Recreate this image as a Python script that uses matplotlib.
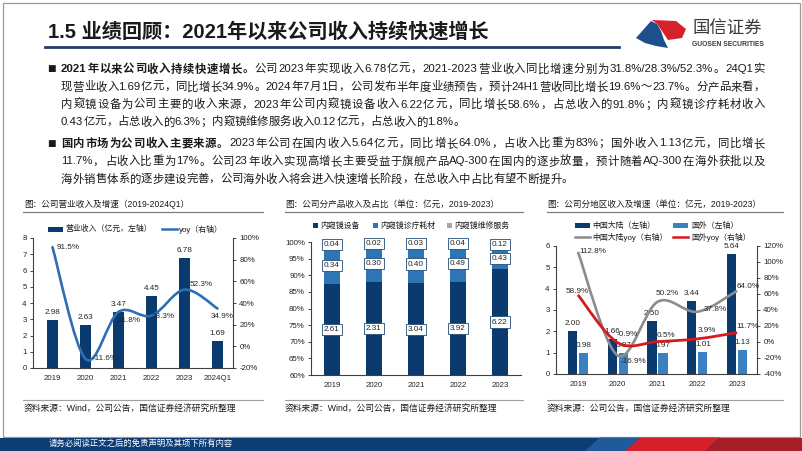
import matplotlib
matplotlib.use('Agg')
import re
import matplotlib.pyplot as plt
from matplotlib.path import Path
from matplotlib.patches import PathPatch, Rectangle, Polygon
from matplotlib.lines import Line2D

plt.rcParams['font.family'] = ['Liberation Sans', 'Noto Sans CJK SC']
plt.rcParams['axes.unicode_minus'] = False

# ---------------- data ----------------
years1 = ['2019', '2020', '2021', '2022', '2023', '2024Q1']
revenue = [2.98, 2.63, 3.47, 4.45, 6.78, 1.69]
revenue_yoy = [91.5, -11.6, 31.8, 28.3, 52.3, 34.9]

years2 = ['2019', '2020', '2021', '2022', '2023']
prod_equipment = [2.61, 2.31, 3.04, 3.92, 6.22]
prod_consumables = [0.34, 0.30, 0.40, 0.49, 0.43]
prod_service = [0.04, 0.02, 0.03, 0.04, 0.12]

years3 = ['2019', '2020', '2021', '2022', '2023']
mainland = [2.00, 1.66, 2.50, 3.44, 5.64]
overseas = [0.98, 0.97, 0.97, 1.01, 1.13]
mainland_yoy = [112.8, -16.9, 50.2, 37.8, 64.0]
overseas_yoy = [58.9, -0.9, 0.5, 3.9, 11.7]

title = '1.5 业绩回顾：2021年以来公司收入持续快速增长'
para_lines = [
    [('2021年以来公司收入持续快速增长。', True),
     ('公司2023年实现收入6.78亿元，2021-2023营业收入同比增速分别为31.8%/28.3%/52.3%。24Q1实', False)],
    [('现营业收入1.69亿元，同比增长34.9%。2024年7月1日，公司发布半年度业绩预告，预计24H1营收同比增长19.6%～23.7%。分产品来看，', False)],
    [('内窥镜设备为公司主要的收入来源，2023年公司内窥镜设备收入6.22亿元，同比增长58.6%，占总收入的91.8%；内窥镜诊疗耗材收入', False)],
    [('0.43亿元，占总收入的6.3%；内窥镜维修服务收入0.12亿元，占总收入的1.8%。', False)],
    [('国内市场为公司收入主要来源。', True),
     ('2023年公司在国内收入5.64亿元，同比增长64.0%，占收入比重为83%；国外收入1.13亿元，同比增长', False)],
    [('11.7%，占收入比重为17%。公司23年收入实现高增长主要受益于旗舰产品AQ-300在国内的逐步放量，预计随着AQ-300在海外获批以及', False)],
    [('海外销售体系的逐步建设完善，公司海外收入将会进入快速增长阶段，在总收入中占比有望不断提升。', False)],
]
chart_titles = ['图：公司营业收入及增速（2019-2024Q1）',
                '图：公司分产品收入及占比（单位：亿元，2019-2023）',
                '图：公司分地区收入及增速（单位：亿元，2019-2023）']
sources = ['资料来源：Wind，公司公告，国信证券经济研究所整理',
           '资料来源：Wind，公司公告，国信证券经济研究所整理',
           '资料来源：公司公告，国信证券经济研究所整理']
legend1 = ['营业收入（亿元，左轴）', 'yoy（右轴）']
legend2 = ['内窥镜设备', '内窥镜诊疗耗材', '内窥镜维修服务']
legend3 = ['中国大陆（左轴）', '国外（左轴）', '中国大陆yoy（右轴）', '国外yoy（右轴）']
footer_text = '请务必阅读正文之后的免责声明及其项下所有内容'

# ---------------- styles ----------------
NAVY = '#0b3a6e'
MID = '#2e75b6'
LIGHT = '#3b80c3'
GRAY = '#a6a6a6'
LINEBLUE = '#2f6eb5'
RED = '#d7191c'
TXT = '#1a1a1a'

W, H = 802, 451
fig = plt.figure(figsize=(W / 100, H / 100), dpi=100)
R = fig.canvas.get_renderer()


def ftext(x, y, s, **kw):
    return fig.text(x / W, 1 - y / H, s, **kw)


def fline(x0, x1, y0, y1, **kw):
    fig.add_artist(Line2D([x0 / W, x1 / W], [1 - y0 / H, 1 - y1 / H],
                          transform=fig.transFigure, **kw))


def frect(x, y, w, h, **kw):
    fig.add_artist(Rectangle((x / W, 1 - (y + h) / H), w / W, h / H,
                             transform=fig.transFigure, **kw))


def fpoly(pts, **kw):
    fig.add_artist(Polygon([(x / W, 1 - y / H) for x, y in pts],
                           closed=True, transform=fig.transFigure, **kw))


def add_ax(x0, y0, x1, y1):
    return fig.add_axes([x0 / W, 1 - y1 / H, (x1 - x0) / W, (y1 - y0) / H])


def smooth_path(xs, ys):
    pts = list(zip(xs, ys))
    n = len(pts)
    verts = [pts[0]]
    codes = [Path.MOVETO]
    for i in range(n - 1):
        p0 = pts[i - 1] if i > 0 else pts[i]
        p1 = pts[i]
        p2 = pts[i + 1]
        p3 = pts[i + 2] if i + 2 < n else pts[i + 1]
        c1 = (p1[0] + (p2[0] - p0[0]) / 6, p1[1] + (p2[1] - p0[1]) / 6)
        c2 = (p2[0] - (p3[0] - p1[0]) / 6, p2[1] - (p3[1] - p1[1]) / 6)
        verts += [c1, c2, p2]
        codes += [Path.CURVE4] * 3
    return Path(verts, codes)


def style_axis(ax, spines=('left', 'bottom')):
    for s in ['left', 'right', 'top', 'bottom']:
        ax.spines[s].set_visible(s in spines)
        ax.spines[s].set_color('#404040')
        ax.spines[s].set_linewidth(0.8)
    ax.tick_params(labelsize=5.7, colors='#262626', length=2.5, width=0.6, pad=2)
    ax.patch.set_alpha(0)


# ---------------- frame / header / footer ----------------
frect(3, 3, 797, 434, fill=False, ec='#9a9a9a', lw=0.9)
ftext(48, 32, title, fontsize=14.5, fontweight='bold', color=TXT, va='center', ha='left')
fline(45, 619, 46.5, 46.5, color='#1f3e6e', lw=2.0)

# logo
fpoly([(636, 38), (651, 21), (657, 24), (661, 31), (664, 40), (668, 48), (656, 46), (645, 43)],
      fc='#1c4f8c', ec='none')
fpoly([(652, 20), (676, 21), (686, 29), (682, 38), (668, 40), (662, 31), (657, 24)],
      fc='#d6202a', ec='none')
ftext(692, 28.5, '国信证券', fontsize=12.5, color='#3a3a3a', va='center', ha='left')
ftext(692, 45, 'GUOSEN SECURITIES', fontsize=4.9, fontweight='bold', color='#3a3a3a',
      va='center', ha='left')

# footer
frect(0, 437.5, 802, 13.5, fc='#0e3c74', ec='none')
fpoly([(600, 437.5), (640, 437.5), (625, 451), (585, 451)], fc='#1e5a9c', ec='none')
fpoly([(640, 437.5), (720, 437.5), (705, 451), (625, 451)], fc='#d42029', ec='none')
fpoly([(720, 437.5), (802, 437.5), (802, 451), (705, 451)], fc='#a81e26', ec='none')
ftext(49, 444, footer_text, fontsize=6, color='white', va='center', ha='left')

# ---------------- paragraph (justified) ----------------
line_ys = [69, 87, 104.5, 122, 143.5, 161.5, 179]
bullet_rows = [0, 4]
justify_rows = [0, 1, 2, 4, 5]
body_size = 8.2
x_start, x_end = 61, 765


def tokens_of(parts):
    toks = []
    for s, bold in parts:
        for m in re.finditer(r'[\x20-\x7e]+|.', s):
            toks.append((m.group(0), bold))
    return toks


for row, (y, parts) in enumerate(zip(line_ys, para_lines)):
    if row in bullet_rows:
        ftext(51, y, '■', fontsize=6.5, color=TXT, va='center', ha='center',
              family=['DejaVu Sans'])
    toks = tokens_of(parts)
    arts = []
    widths = []
    for s, bold in toks:
        t = ftext(x_start, y, s, fontsize=body_size, fontweight='bold' if bold else 'normal',
                  color=TXT, va='center', ha='left')
        widths.append(t.get_window_extent(renderer=R).width)
        arts.append(t)
    total = sum(widths)
    gap = 0.0
    if row in justify_rows and len(toks) > 1:
        gap = (x_end - x_start - total) / (len(toks) - 1)
    x = x_start
    for t, w in zip(arts, widths):
        t.set_x(x / W)
        x += w + gap

# ---------------- chart frames (titles / rules / sources) ----------------
spans = [(23, 263), (285, 523), (547, 783)]
title_x = [24, 285, 547]
for (x0, x1), tx, ttl, src in zip(spans, title_x, chart_titles, sources):
    ftext(tx, 204.5, ttl, fontsize=6.2, color=TXT, va='center', ha='left')
    fline(x0, x1, 212, 212, color='#7f7f7f', lw=0.9)
    fline(x0, x1, 400, 400, color='#a0a0a0', lw=0.8)
    ftext(tx, 408.5, src, fontsize=6.3, color=TXT, va='center', ha='left')

lab_kw = dict(fontsize=5.9, color='#262626', ha='center')

# ---------------- chart 1 ----------------
ax1 = add_ax(33, 238, 233, 368)
x1 = list(range(len(years1)))
ax1.bar(x1, revenue, width=0.33, color=NAVY, zorder=2)
ax1.set_xlim(-0.59, 5.47)
ax1.set_ylim(0, 8)
ax1.set_yticks(range(0, 9))
ax1.set_xticks(x1)
ax1.set_xticklabels(years1)
style_axis(ax1)
ax1.tick_params(axis='x', length=0, pad=5)
for xi, v in zip(x1, revenue):
    ax1.annotate(f'{v:.2f}', (xi, v), xytext=(0, 4), textcoords='offset pixels',
                 va='bottom', **lab_kw)
ax1b = ax1.twinx()
ax1b.set_ylim(-20, 100)
ax1b.set_yticks(range(-20, 101, 20))
ax1b.set_yticklabels([f'{v}%' for v in range(-20, 101, 20)])
style_axis(ax1b, spines=('right',))
ax1b.add_patch(PathPatch(smooth_path(x1, revenue_yoy), fill=False, ec=LINEBLUE, lw=1.9,
                         zorder=3, capstyle='round'))
off1 = [(16, 0), (20, 0), (11, -9), (12, -1), (17, 5), (5, -7.5)]
for xi, v, (dx, dy) in zip(x1, revenue_yoy, off1):
    ax1b.annotate(f'{v:.1f}%', (xi, v), xytext=(dx, dy), textcoords='offset pixels',
                  va='center', zorder=4, **lab_kw)
# legend 1
frect(48, 226.5, 15, 5, fc=NAVY, ec='none')
ftext(66, 229, legend1[0], fontsize=5.7, color=TXT, va='center', ha='left')
fline(162, 177, 229, 229, color=LINEBLUE, lw=1.8)
ftext(179, 229, legend1[1], fontsize=5.7, color=TXT, va='center', ha='left')

# ---------------- chart 2 ----------------
ax2 = add_ax(311, 242, 521, 375)
x2 = list(range(len(years2)))
tot = [a + b + c for a, b, c in zip(prod_equipment, prod_consumables, prod_service)]
s_eq = [a / t * 100 for a, t in zip(prod_equipment, tot)]
s_co = [b / t * 100 for b, t in zip(prod_consumables, tot)]
s_se = [c / t * 100 for c, t in zip(prod_service, tot)]
ax2.bar(x2, s_eq, width=0.4, color=NAVY, zorder=2)
ax2.bar(x2, s_co, width=0.4, bottom=s_eq, color=MID, zorder=2)
ax2.bar(x2, s_se, width=0.4, bottom=[a + b for a, b in zip(s_eq, s_co)], color=GRAY, zorder=2)
ax2.set_xlim(-0.5, 4.5)
ax2.set_ylim(60, 100)
ax2.set_yticks(range(60, 101, 5))
ax2.set_yticklabels([f'{v}%' for v in range(60, 101, 5)])
ax2.set_xticks(x2)
ax2.set_xticklabels(years2)
style_axis(ax2)
ax2.tick_params(axis='x', length=0, pad=5)
box = dict(boxstyle='square,pad=0.25', fc='white', ec='#1f4e79', lw=0.6)
for i in x2:
    ylo = 60
    pos = [((ylo + s_eq[i]) / 2, prod_equipment[i]),
           (s_eq[i] + s_co[i] / 2, prod_consumables[i]),
           (s_eq[i] + s_co[i] + s_se[i] / 2, prod_service[i])]
    for yy, v in pos:
        ax2.text(i, yy, f'{v:.2f}', va='center', bbox=box, zorder=4, **lab_kw)
# legend 2
for lx, col, txt in zip([315, 375, 449], [NAVY, MID, GRAY], legend2):
    frect(lx - 2.5, 223.5, 5, 5, fc=col, ec='none')
    ftext(lx + 5, 226, txt, fontsize=5.7, color=TXT, va='center', ha='left')

# ---------------- chart 3 ----------------
ax3 = add_ax(556, 246, 757, 374)
x3 = list(range(len(years3)))
ax3.bar([i - 0.14 for i in x3], mainland, width=0.23, color=NAVY, zorder=2)
ax3.bar([i + 0.14 for i in x3], overseas, width=0.23, color=LIGHT, zorder=2)
ax3.set_xlim(-0.55, 4.5)
ax3.set_ylim(0, 6)
ax3.set_yticks(range(0, 7))
ax3.set_xticks(x3)
ax3.set_xticklabels(years3)
style_axis(ax3)
ax3.tick_params(axis='x', length=0, pad=5)
for i in x3:
    ax3.annotate(f'{mainland[i]:.2f}', (i - 0.14, mainland[i]), xytext=(0, 4),
                 textcoords='offset pixels', va='bottom', zorder=5, **lab_kw)
    ax3.annotate(f'{overseas[i]:.2f}', (i + 0.14, overseas[i]), xytext=(0, 4),
                 textcoords='offset pixels', va='bottom', zorder=5, **lab_kw)
ax3b = ax3.twinx()
ax3b.set_ylim(-40, 120)
ax3b.set_yticks(range(-40, 121, 20))
ax3b.set_yticklabels([f'{v}%' for v in range(-40, 121, 20)])
style_axis(ax3b, spines=('right',))
ax3b.add_patch(PathPatch(smooth_path(x3, mainland_yoy), fill=False, ec='#8c8c8c', lw=1.9,
                         zorder=3))
ax3b.add_patch(PathPatch(smooth_path(x3, overseas_yoy), fill=False, ec=RED, lw=2.0,
                         zorder=3))
off3a = [(15, 0), (16, -5.5), (10, 8), (18, 2), (11, 4)]
off3b = [(-1, 3), (10, 8), (8, 6), (10, 8), (11, 6)]
for i in x3:
    ax3b.annotate(f'{mainland_yoy[i]:.1f}%', (i, mainland_yoy[i]), xytext=off3a[i],
                  textcoords='offset pixels', va='center', zorder=5, **lab_kw)
    ax3b.annotate(f'{overseas_yoy[i]:.1f}%', (i, overseas_yoy[i]), xytext=off3b[i],
                  textcoords='offset pixels', va='center', zorder=5, **lab_kw)
# legend 3
frect(575, 223.5, 15, 5, fc=NAVY, ec='none')
ftext(592, 226, legend3[0], fontsize=5.7, color=TXT, va='center', ha='left')
frect(673, 223.5, 15, 5, fc=LIGHT, ec='none')
ftext(691, 226, legend3[1], fontsize=5.7, color=TXT, va='center', ha='left')
fline(575, 590, 237, 237, color='#8c8c8c', lw=1.8)
ftext(592, 237, legend3[2], fontsize=5.7, color=TXT, va='center', ha='left')
fline(673, 688, 237, 237, color=RED, lw=1.8)
ftext(691, 237, legend3[3], fontsize=5.7, color=TXT, va='center', ha='left')

fig.savefig('out.png', dpi=100)
